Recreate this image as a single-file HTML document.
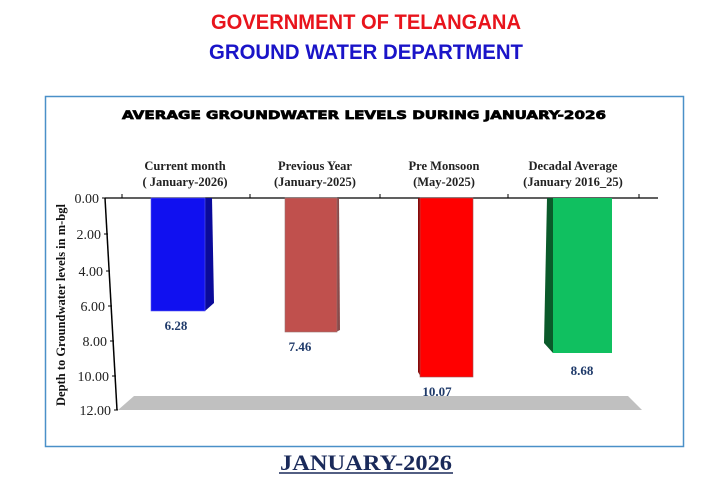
<!DOCTYPE html>
<html><head><meta charset="utf-8"><style>
html,body{margin:0;padding:0;background:#fff;width:711px;height:504px;overflow:hidden}
svg{display:block}
</style></head><body>
<svg width="711" height="504" viewBox="0 0 711 504" xmlns="http://www.w3.org/2000/svg">
<text x="366" y="29" text-anchor="middle" font-family="Liberation Sans, sans-serif" font-weight="bold" font-size="21" fill="#e8141c" textLength="310" lengthAdjust="spacingAndGlyphs">GOVERNMENT OF TELANGANA</text>
<text x="366" y="59" text-anchor="middle" font-family="Liberation Sans, sans-serif" font-weight="bold" font-size="21" fill="#1a14c8" textLength="314" lengthAdjust="spacingAndGlyphs">GROUND WATER DEPARTMENT</text>
<rect x="45.5" y="96.5" width="638" height="350" fill="#fff" stroke="#4a90c8" stroke-width="1.5"/>
<text x="364" y="119" text-anchor="middle" font-family="DejaVu Sans, sans-serif" font-weight="bold" font-size="11.5" fill="#000" stroke="#000" stroke-width="0.7" textLength="484" lengthAdjust="spacingAndGlyphs">AVERAGE GROUNDWATER LEVELS DURING JANUARY-2026</text>
<g font-family="Liberation Serif, serif" font-weight="bold" font-size="12.5" fill="#222" text-anchor="middle">
<text x="185" y="170">Current month</text><text x="185" y="186">( January-2026)</text>
<text x="315" y="170">Previous Year</text><text x="315" y="186">(January-2025)</text>
<text x="444" y="170">Pre Monsoon</text><text x="444" y="186">(May-2025)</text>
<text x="573" y="170">Decadal Average</text><text x="573" y="186">(January 2016_25)</text>
</g>
<polygon points="118,410 134,396 628,396 642,410" fill="#c0c0c0"/>
<line x1="105" y1="198" x2="658" y2="198" stroke="#000" stroke-width="1.2"/>
<g stroke="#000" stroke-width="1"><line x1="122" y1="194" x2="122" y2="198"/><line x1="250" y1="194" x2="250" y2="198"/><line x1="380" y1="194" x2="380" y2="198"/><line x1="508" y1="194" x2="508" y2="198"/><line x1="639" y1="194" x2="639" y2="198"/></g>
<line x1="105" y1="198" x2="117" y2="410" stroke="#000" stroke-width="1.5"/>
<g stroke="#000" stroke-width="1"><line x1="102" y1="198" x2="106" y2="198"/><line x1="104" y1="234" x2="108" y2="234"/><line x1="106" y1="271" x2="110" y2="271"/><line x1="108" y1="306" x2="112" y2="306"/><line x1="110" y1="341" x2="114" y2="341"/><line x1="112" y1="376" x2="116" y2="376"/><line x1="114" y1="410" x2="118" y2="410"/></g>
<g font-family="Liberation Serif, serif" font-size="14" fill="#222" text-anchor="end">
<text x="99" y="203">0.00</text><text x="101" y="239">2.00</text><text x="103" y="276">4.00</text><text x="105" y="311">6.00</text><text x="107" y="346">8.00</text><text x="109" y="381">10.00</text><text x="111" y="415">12.00</text>
</g>
<text transform="translate(65,305) rotate(-90)" text-anchor="middle" font-family="Liberation Serif, serif" font-weight="bold" font-size="12.5" fill="#111">Depth to Groundwater levels in m-bgl</text>
<polygon points="205,198 212,198 214,303 205,311" fill="#0a0a9a"/>
<rect x="151" y="198" width="54" height="113" fill="#1010f0" stroke="#5a5af0" stroke-width="0.6"/>
<polygon points="336,198 339,198 340,330 336,332" fill="#8a4a4a"/>
<rect x="285" y="198" width="52" height="134" fill="#c0504d" stroke="#9a7070" stroke-width="0.6"/>
<polygon points="418,198 421,198 421,377 418,372" fill="#8a0808"/>
<rect x="420" y="198" width="53" height="179" fill="#ff0000" stroke="#a05050" stroke-width="0.6"/>
<polygon points="547,198 553,198 553,353 544,343" fill="#0a5a2a"/>
<rect x="553" y="198" width="59" height="155" fill="#10c060"/>
<g font-family="Liberation Serif, serif" font-weight="bold" font-size="13" fill="#1f3a6a" text-anchor="middle">
<text x="176" y="330">6.28</text><text x="300" y="351">7.46</text><text x="437" y="396">10.07</text><text x="582" y="375">8.68</text>
</g>
<text x="366" y="470" text-anchor="middle" font-family="Liberation Serif, serif" font-weight="bold" font-size="22" fill="#1a2a5a" textLength="172" lengthAdjust="spacingAndGlyphs">JANUARY-2026</text>
<line x1="279" y1="473" x2="453" y2="473" stroke="#1a2a5a" stroke-width="1.5"/>
</svg>
</body></html>
